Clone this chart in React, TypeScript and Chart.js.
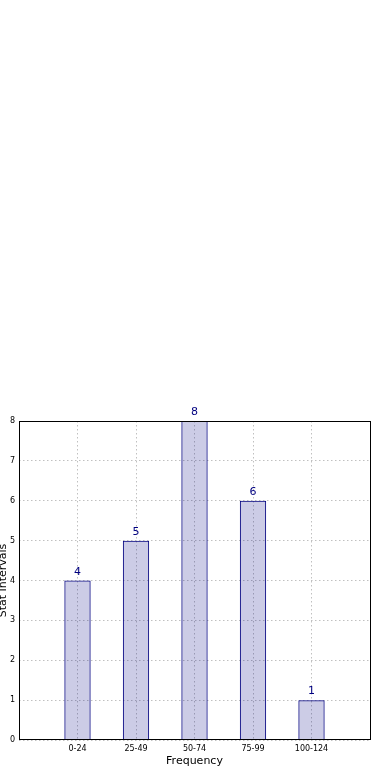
import React, { useEffect, useRef } from "react";
import { Chart, registerables } from "chart.js";

Chart.register(...registerables);

const categories = ["0-24", "25-49", "50-74", "75-99", "100-124"];
const values = [4, 5, 8, 6, 1];
const yTicks = [0, 1, 2, 3, 4, 5, 6, 7, 8];
const xTitle = "Frequency";
const yTitle = "Stat Intervals";

const FONT = "'DejaVu Sans', sans-serif";

const framePlugin = {
  id: "frame",
  afterDraw(chart: any) {
    const { ctx, chartArea } = chart;
    ctx.save();
    ctx.strokeStyle = "#000";
    ctx.lineWidth = 1;
    ctx.strokeRect(
      Math.round(chartArea.left) + 0.5,
      Math.round(chartArea.top) + 0.5,
      Math.round(chartArea.right - chartArea.left),
      Math.round(chartArea.bottom - chartArea.top) - 1
    );
    ctx.restore();
  },
};

const valueLabelPlugin = {
  id: "valueLabels",
  afterDatasetsDraw(chart: any) {
    const { ctx } = chart;
    const meta = chart.getDatasetMeta(0);
    ctx.save();
    ctx.fillStyle = "#000080";
    ctx.font = `11px ${FONT}`;
    ctx.textAlign = "center";
    ctx.textBaseline = "bottom";
    meta.data.forEach((el: any, i: number) => {
      ctx.fillText(String(values[i]), el.x, el.y - 3);
    });
    ctx.restore();
  },
};

export default function App() {
  const ref = useRef<HTMLCanvasElement>(null);
  useEffect(() => {
    if (!ref.current) return;
    const grid = {
      color: "#c0c0c0",
      lineWidth: 1,
      drawTicks: false,
      offset: false,
    };
    const chart = new Chart(ref.current, {
      type: "bar",
      data: {
        datasets: [
          {
            data: values.map((v, i) => ({ x: i, y: v })),
            backgroundColor: "rgba(0,0,128,0.2)",
            borderColor: "#000080",
            borderWidth: 1,
            barPercentage: 0.45,
            categoryPercentage: 1,
          },
        ],
      },
      options: {
        responsive: false,
        animation: false,
        layout: { padding: { top: 421, right: 20, left: 0, bottom: 0 } },
        plugins: { legend: { display: false }, tooltip: { enabled: false } },
        scales: {
          x: {
            type: "linear",
            min: -1,
            max: 5,
            offset: false,
            grid: { ...grid },
            border: { display: false, dash: [1.5, 2.5] },
            ticks: {
              stepSize: 1,
              autoSkip: false,
              maxRotation: 0,
              padding: 4,
              color: "#000",
              font: { family: FONT, size: 8 },
              callback: (v: any) => categories[v as number] ?? "",
            },
            title: {
              display: true,
              text: xTitle,
              color: "#000",
              font: { family: FONT, size: 11 },
              padding: { top: 0, bottom: 12 },
            },
            afterFit: (s: any) => {
              s.height = 40;
            },
          },
          y: {
            min: 0,
            max: 8,
            grid: { ...grid },
            border: { display: false, dash: [1.5, 2.5] },
            afterBuildTicks: (s: any) => {
              s.ticks = yTicks.map((v) => ({ value: v }));
            },
            ticks: {
              padding: 4,
              color: "#000",
              font: { family: FONT, size: 8 },
            },
            title: {
              display: true,
              text: yTitle,
              color: "#000",
              font: { family: FONT, size: 11, lineHeight: 0.55 },
              padding: { top: 0, bottom: 0 },
            },
            afterFit: (s: any) => {
              s.width = 19;
            },
          },
        },
      },
      plugins: [framePlugin, valueLabelPlugin],
    } as any);
    return () => chart.destroy();
  }, []);
  return (
    <div style={{ position: "absolute", left: 0, top: 0, width: 390, height: 780, background: "#fff" }}>
      <canvas ref={ref} width={390} height={780} style={{ display: "block" }} />
    </div>
  );
}
